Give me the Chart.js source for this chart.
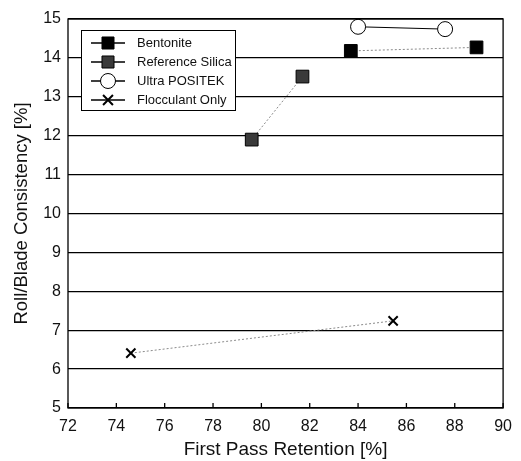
<!DOCTYPE html>
<html>
<head>
<meta charset="utf-8">
<script src="https://cdn.jsdelivr.net/npm/chart.js@4/dist/chart.umd.min.js"></script>
<style>
  html, body { margin: 0; padding: 0; background: #fff; }
  #wrap { width: 521px; height: 461px; }
</style>
</head>
<body>
<div id="wrap"><canvas id="consistencyChart" width="521" height="461"></canvas></div>
<script>
// Values (x = first pass retention %, y = consistency %)
const bentoniteX = [83.7, 88.9];
const bentoniteY = [14.18, 14.27];
const silicaX = [79.6, 81.7];
const silicaY = [11.9, 13.52];
const positekX = [84.0, 87.6];
const positekY = [14.8, 14.74];
const flocX = [74.6, 85.45];
const flocY = [6.41, 7.24];

const seriesNames = ['Bentonite', 'Reference Silica', 'Ultra POSITEK', 'Flocculant Only'];
const xTicks = [72, 74, 76, 78, 80, 82, 84, 86, 88, 90];
const yTicks = [5, 6, 7, 8, 9, 10, 11, 12, 13, 14, 15];

const FONT = "'Liberation Sans', Arial, sans-serif";

function toPoints(xs, ys) {
  return xs.map((x, i) => ({ x: x, y: ys[i] }));
}

// Marker styles for each series
const markers = [
  { pointStyle: 'rect', radius: 9, legendRadius: 8.5, fill: '#000', stroke: '#000', line: '#8a8a8a', dash: [2, 2] },
  { pointStyle: 'rect', radius: 9, legendRadius: 8.5, fill: '#3a3a3a', stroke: '#000', line: '#8a8a8a', dash: [2, 2] },
  { pointStyle: 'circle', radius: 7.5, legendRadius: 7.5, fill: '#fff', stroke: '#000', line: '#000', dash: [] },
  { pointStyle: 'cross', radius: 6.5, legendRadius: 7, fill: '#000', stroke: '#000', line: '#8a8a8a', dash: [2, 2], rot: 45 }
];

const seriesData = [
  toPoints(bentoniteX, bentoniteY),
  toPoints(silicaX, silicaY),
  toPoints(positekX, positekY),
  toPoints(flocX, flocY)
];

// Frame, inward tick marks and the line+marker legend box
const framePlugin = {
  id: 'frame',
  afterDraw(chart) {
    const ctx = chart.ctx;
    const a = chart.chartArea;
    const xs = chart.scales.x;
    ctx.save();
    ctx.strokeStyle = '#000';
    ctx.lineWidth = 1.3;
    ctx.strokeRect(a.left, a.top, a.right - a.left, a.bottom - a.top);
    ctx.beginPath();
    xTicks.forEach(v => {
      const px = xs.getPixelForValue(v);
      ctx.moveTo(px, a.bottom);
      ctx.lineTo(px, a.bottom - 5);
    });
    ctx.stroke();

    // legend
    const lx = 81, ly = 30, lw = 154, lh = 80;
    ctx.fillStyle = '#fff';
    ctx.fillRect(lx, ly, lw, lh);
    ctx.lineWidth = 1;
    ctx.strokeRect(lx + 0.5, ly + 0.5, lw, lh);
    ctx.font = '13px ' + FONT;
    ctx.textBaseline = 'middle';
    seriesNames.forEach((name, i) => {
      const cy = ly + 13 + i * 19;
      const m = markers[i];
      ctx.strokeStyle = '#000';
      ctx.lineWidth = 1.5;
      ctx.beginPath();
      ctx.moveTo(91, cy);
      ctx.lineTo(125, cy);
      ctx.stroke();
      ctx.lineWidth = m.pointStyle === 'cross' ? 2 : 1;
      ctx.fillStyle = m.fill;
      Chart.helpers.drawPoint(ctx, {
        pointStyle: m.pointStyle,
        radius: m.legendRadius,
        rotation: m.rot || 0,
        borderWidth: 1
      }, 108, cy);
      ctx.fillStyle = '#111';
      ctx.fillText(name, 137, cy);
    });
    ctx.restore();
  }
};

new Chart(document.getElementById('consistencyChart').getContext('2d'), {
  type: 'scatter',
  data: {
    datasets: seriesNames.map((name, i) => ({
      label: name,
      data: seriesData[i],
      showLine: true,
      borderColor: markers[i].line,
      borderWidth: 1,
      borderDash: markers[i].dash,
      pointStyle: markers[i].pointStyle,
      pointRotation: markers[i].rot || 0,
      pointRadius: markers[i].radius,
      pointBackgroundColor: markers[i].fill,
      pointBorderColor: markers[i].stroke,
      pointBorderWidth: markers[i].pointStyle === 'cross' ? 2 : 1
    }))
  },
  options: {
    responsive: false,
    animation: false,
    layout: { padding: { left: 0, top: 19, right: 16, bottom: 0 } },
    plugins: { legend: { display: false }, tooltip: { enabled: false } },
    scales: {
      x: {
        type: 'linear',
        min: 72,
        max: 90,
        afterBuildTicks: s => { s.ticks = xTicks.map(v => ({ value: v })); },
        afterFit: s => { s.height = 53; },
        grid: { display: false, drawTicks: false },
        border: { display: false },
        ticks: { color: '#111', font: { family: FONT, size: 16 }, padding: 9, maxRotation: 0 },
        title: {
          display: true,
          text: 'First Pass Retention [%]',
          color: '#111',
          font: { family: FONT, size: 19 },
          padding: { top: 2, bottom: 0 }
        }
      },
      y: {
        type: 'linear',
        min: 5,
        max: 15,
        afterBuildTicks: s => { s.ticks = yTicks.map(v => ({ value: v })); },
        afterFit: s => { s.width = 68; },
        grid: { color: '#000', lineWidth: 1.3, drawTicks: false },
        border: { display: false },
        ticks: { color: '#111', font: { family: FONT, size: 16 }, padding: 7 },
        title: {
          display: true,
          text: 'Roll/Blade Consistency [%]',
          color: '#111',
          font: { family: FONT, size: 18.5 },
          padding: { top: 11, bottom: 4 }
        }
      }
    }
  },
  plugins: [framePlugin]
});
</script>
</body>
</html>
